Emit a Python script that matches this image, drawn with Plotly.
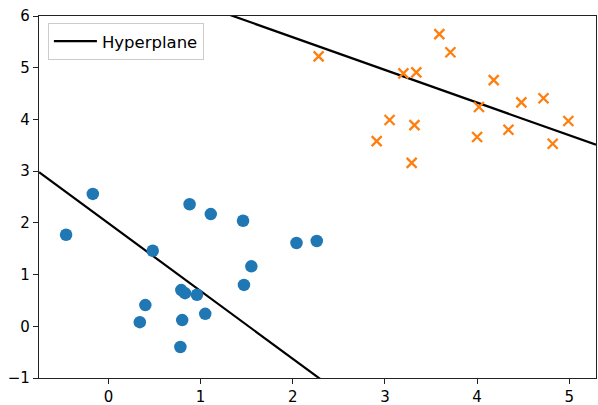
import plotly.graph_objects as go

blue_x = [-0.46, -0.17, 0.48, 0.88, 1.11, 1.46, 2.04, 2.26, 1.55, 1.47, 0.79, 0.83, 0.96, 0.40, 0.34, 0.80, 1.05, 0.78]
blue_y = [1.77, 2.56, 1.46, 2.36, 2.17, 2.04, 1.61, 1.65, 1.16, 0.80, 0.70, 0.64, 0.61, 0.41, 0.08, 0.12, 0.24, -0.40]

orange_x = [2.28, 3.59, 3.71, 3.20, 3.34, 4.18, 4.02, 4.48, 4.72, 4.99, 3.05, 3.32, 2.91, 4.00, 4.34, 4.82, 3.29]
orange_y = [5.22, 5.65, 5.30, 4.89, 4.91, 4.76, 4.24, 4.33, 4.41, 3.97, 3.99, 3.89, 3.58, 3.66, 3.80, 3.53, 3.16]

line_x = [-0.754, 5.29]
line1_y = [2.98, -4.94]
line2_y = [7.33, 3.51]

fig = go.Figure()
fig.add_trace(go.Scatter(x=line_x, y=line1_y, mode="lines", name="Hyperplane",
                         line=dict(color="black", width=2.2), showlegend=True))
fig.add_trace(go.Scatter(x=line_x, y=line2_y, mode="lines", name="Hyperplane",
                         line=dict(color="black", width=2.2), showlegend=False))
fig.add_trace(go.Scatter(x=blue_x, y=blue_y, mode="markers", showlegend=False,
                         marker=dict(color="#1f77b4", size=12.5, symbol="circle")))
fig.add_trace(go.Scatter(x=orange_x, y=orange_y, mode="markers", showlegend=False,
                         marker=dict(color="#ff7f0e", size=10, symbol="x-thin",
                                     line=dict(color="#ff7f0e", width=2.3))))

axis_common = dict(showgrid=False, zeroline=False, showline=True, linecolor="#222222",
                   linewidth=1.2, mirror=True, ticks="outside", ticklen=5, tickwidth=1.2,
                   tickcolor="#222222", ticklabeloverflow="allow", automargin=False,
                   tickfont=dict(family="DejaVu Sans", size=15, color="black"))

fig.update_layout(
    width=598, height=405,
    margin=dict(l=39, r=2, t=16, b=27),
    plot_bgcolor="white", paper_bgcolor="white",
    xaxis=dict(range=[-0.754, 5.29], tickvals=[0, 1, 2, 3, 4, 5], **axis_common),
    yaxis=dict(range=[-1, 6], tickvals=[-1, 0, 1, 2, 3, 4, 5, 6], **axis_common),
    legend=dict(x=0.016, y=0.981, xanchor="left", yanchor="top", itemwidth=43,
                bgcolor="rgba(255,255,255,0.8)", bordercolor="#cccccc", borderwidth=1,
                font=dict(family="DejaVu Sans", size=16.5, color="black")),
    showlegend=True,
)

fig.write_html("out.html", config={"displayModeBar": False},
               post_script="document.body.style.margin='0px';document.body.style.overflow='hidden';")
